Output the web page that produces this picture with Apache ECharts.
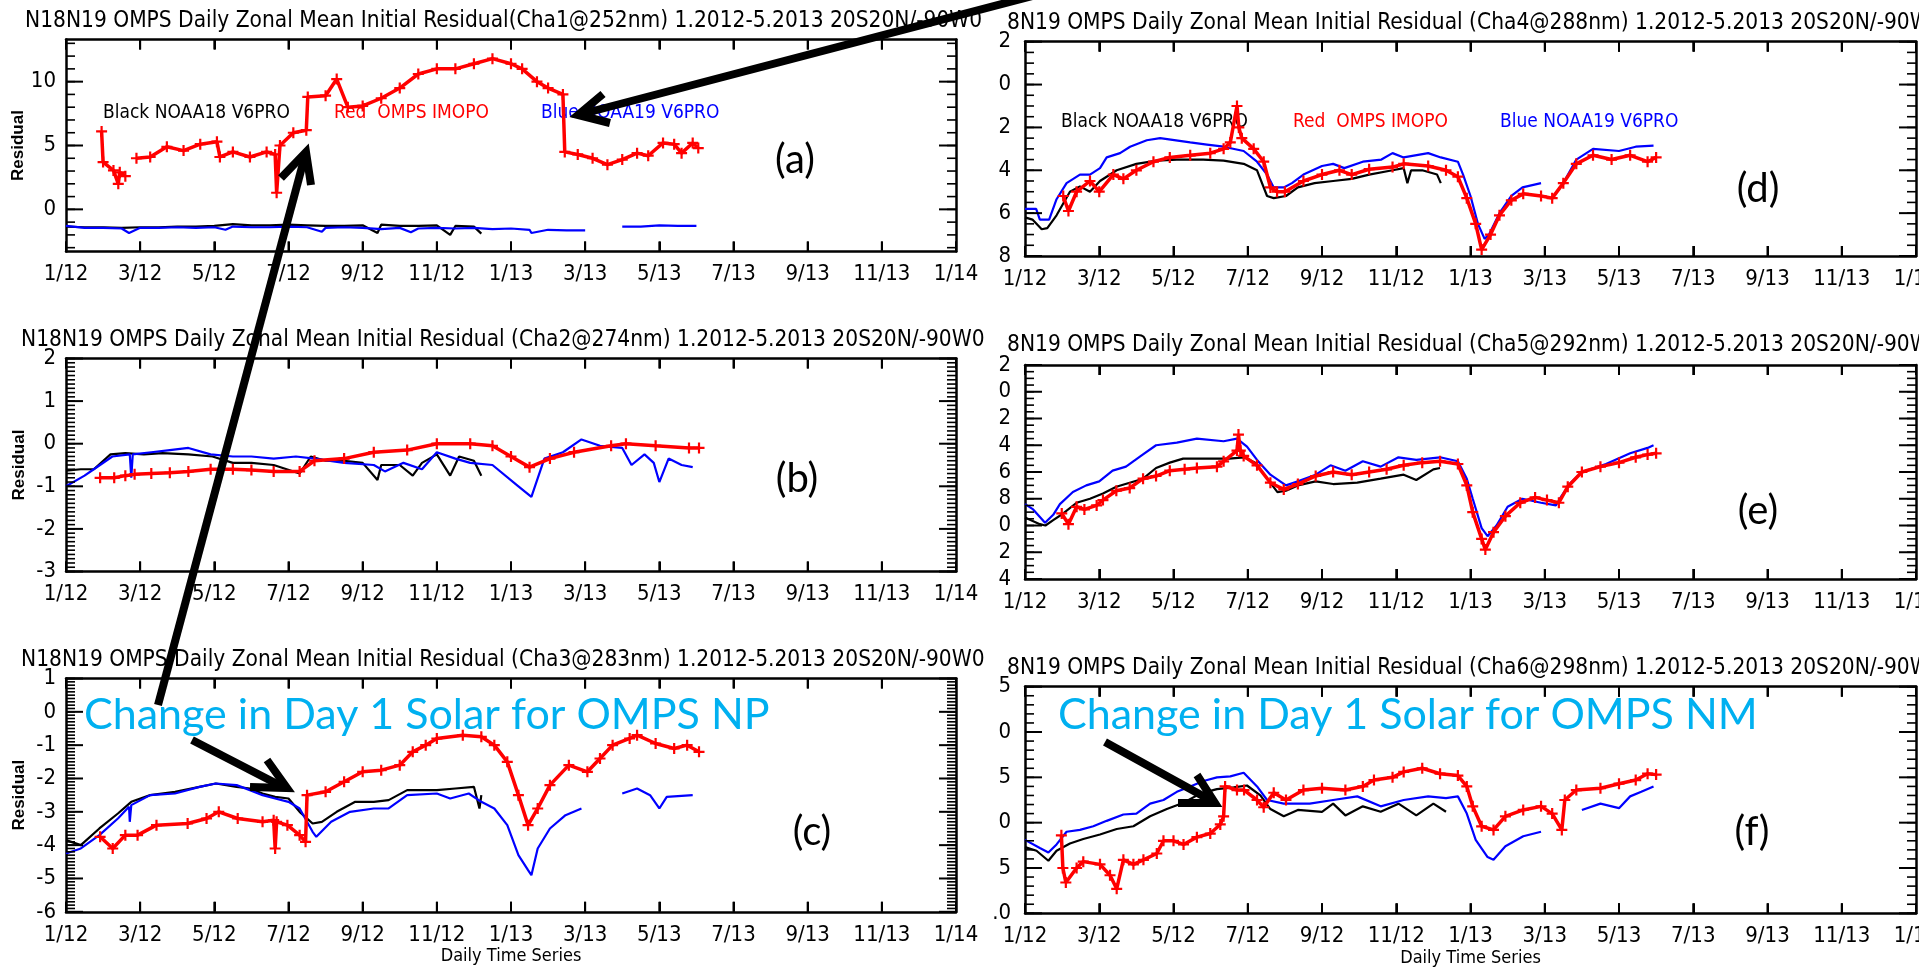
<!DOCTYPE html>
<html lang="en">
<head>
<meta charset="UTF-8">
<title>OMPS Daily Zonal Mean Initial Residual</title>
<script src="https://cdn.jsdelivr.net/npm/echarts@6/dist/echarts.min.js"></script>
</head>
<body style="margin:0;background:#fff;">
<div id="myChart" style="width:1919px;height:970px;"></div>
<script>
// x axis = months since 1/2012
var monthLabels = ['1/12','3/12','5/12','7/12','9/12','11/12','1/13','3/13','5/13','7/13','9/13','11/13','1/14'];
var monthTicks = [0,2,4,6,8,10,12,14,16,18,20,22,24];

// y ticks (what is visible on the cropped slide)
var aTicks = [0, 5, 10];            var aTickLabels = ['0','5','10'];
var bTicks = [-3,-2,-1,0,1,2];      var bTickLabels = ['-3','-2','-1','0','1','2'];
var cTicks = [-6,-5,-4,-3,-2,-1,0,1]; var cTickLabels = ['-6','-5','-4','-3','-2','-1','0','1'];
var dTicks = [-8,-6,-4,-2,0,2];     var dTickLabels = ['8','6','4','2','0','2'];
var eTicks = [-14,-12,-10,-8,-6,-4,-2,0,2]; var eTickLabels = ['4','2','0','8','6','4','2','0','2'];
var fTicks = [-1,-0.5,0,0.5,1,1.5]; var fTickLabels = ['.0','5','0','5','0','5'];

// Cha1 252nm
var aBlack = [[0,-1.35],[0.5,-1.4],[1,-1.4],[1.5,-1.45],[2,-1.4],[2.5,-1.4],[3,-1.35],[3.5,-1.35],[4,-1.3],[4.5,-1.15],[5,-1.25],[5.5,-1.25],[6,-1.2],[6.5,-1.25],[7,-1.3],[7.5,-1.3],[8,-1.25],[8.4,-1.85],[8.5,-1.2],[9,-1.3],[9.5,-1.3],[10,-1.25],[10.36,-2.0],[10.5,-1.3],[11,-1.35],[11.2,-1.9]];
var aBlue = [[0,-1.3],[0.5,-1.45],[1,-1.45],[1.5,-1.5],[1.7,-1.85],[2,-1.45],[2.5,-1.45],[3,-1.4],[3.5,-1.45],[4,-1.4],[4.3,-1.6],[4.5,-1.35],[5,-1.4],[5.5,-1.4],[6,-1.35],[6.5,-1.4],[6.9,-1.75],[7,-1.45],[7.5,-1.4],[8,-1.45],[8.5,-1.55],[9,-1.45],[9.3,-1.8],[9.5,-1.5],[10,-1.45],[10.5,-1.5],[11,-1.45],[11.5,-1.55],[12,-1.5],[12.5,-1.6],[12.55,-1.85],[13,-1.6],[13.5,-1.65],[14,-1.65],null,[15,-1.35],[15.5,-1.35],[16,-1.25],[16.5,-1.3],[17,-1.3]];
var aRed = [[0.96,6.1],[1.0,3.7],[1.28,3.05],[1.41,2.0],[1.45,2.9],[1.6,2.6],null,[1.9,4.0],[2.27,4.1],[2.72,4.9],[3.17,4.6],[3.62,5.1],[4.07,5.3],[4.15,4.1],[4.5,4.5],[4.96,4.1],[5.41,4.5],[5.64,4.3],[5.68,1.3],[5.77,5.0],[6.13,6.0],[6.48,6.2],[6.52,8.8],[7.0,8.9],[7.3,10.2],[7.6,8.0],[8.0,8.1],[8.5,8.7],[9.0,9.5],[9.5,10.6],[10.0,11.0],[10.5,11.0],[11.0,11.4],[11.5,11.8],[12.0,11.4],[12.3,11.0],[12.7,10.0],[13.0,9.5],[13.4,9.0],[13.45,4.5],[13.8,4.3],[14.2,4.0],[14.6,3.5],[15.0,3.9],[15.4,4.4],[15.7,4.2],[16.1,5.2],[16.4,5.1],[16.6,4.4],[16.9,5.2],[17.05,4.8]];

// Cha2 274nm
var bBlack = [[0,-0.63],[0.4,-0.6],[0.75,-0.6],[1.2,-0.25],[1.6,-0.22],[2.1,-0.25],[2.6,-0.22],[3.3,-0.25],[3.95,-0.3],[4.5,-0.45],[5.0,-0.45],[5.6,-0.5],[6.3,-0.7],[6.6,-0.3],[7.0,-0.4],[7.5,-0.4],[8.0,-0.45],[8.4,-0.85],[8.5,-0.5],[9.0,-0.5],[9.35,-0.75],[9.6,-0.45],[10.0,-0.25],[10.36,-0.75],[10.6,-0.3],[11.0,-0.4],[11.2,-0.75]];
var bBlue = [[0,-1.0],[0.5,-0.75],[0.75,-0.6],[1.25,-0.3],[1.72,-0.25],[1.76,-0.8],[1.8,-0.25],[2.3,-0.2],[2.8,-0.15],[3.3,-0.1],[3.9,-0.25],[4.5,-0.3],[5.0,-0.3],[5.6,-0.35],[6.2,-0.3],[6.7,-0.35],[7.5,-0.45],[8.3,-0.5],[8.6,-0.65],[9.1,-0.45],[9.6,-0.6],[10.0,-0.2],[10.5,-0.35],[10.9,-0.45],[11.5,-0.5],[12.2,-1.0],[12.55,-1.25],[12.9,-0.35],[13.4,-0.2],[13.9,0.1],[14.4,-0.05],[15.0,-0.1],[15.25,-0.5],[15.6,-0.25],[15.85,-0.45],[16.0,-0.9],[16.25,-0.35],[16.6,-0.5],[16.9,-0.55]];
var bRed = [[0.92,-0.8],[1.3,-0.8],[1.6,-0.75],[1.85,-0.72],[2.3,-0.7],[2.8,-0.68],[3.3,-0.65],[3.9,-0.6],[4.5,-0.6],[5.0,-0.62],[5.6,-0.65],[6.3,-0.65],[6.7,-0.4],[7.5,-0.35],[8.3,-0.2],[9.2,-0.15],[10.0,0.0],[10.9,0.0],[11.5,-0.05],[12.0,-0.3],[12.5,-0.55],[13.05,-0.35],[13.7,-0.2],[14.7,-0.05],[15.1,0.0],[15.9,-0.05],[16.8,-0.1],[17.07,-0.1]];

// Cha3 283nm
var cBlack = [[0,-3.85],[0.4,-4.0],[0.9,-3.5],[1.4,-3.05],[1.76,-2.7],[2.27,-2.5],[2.94,-2.4],[3.6,-2.25],[4.04,-2.15],[4.6,-2.25],[4.96,-2.3],[5.3,-2.45],[5.64,-2.55],[6.0,-2.6],[6.3,-3.0],[6.65,-3.35],[6.9,-3.3],[7.3,-3.0],[7.8,-2.7],[8.3,-2.7],[8.7,-2.65],[9.2,-2.35],[10.0,-2.35],[10.5,-2.3],[11.0,-2.25],[11.15,-2.9],[11.2,-2.5]];
var cBlue = [[0,-4.25],[0.4,-4.1],[0.9,-3.7],[1.4,-3.2],[1.7,-2.85],[1.72,-3.3],[1.76,-2.8],[2.27,-2.5],[2.94,-2.45],[3.6,-2.25],[4.04,-2.15],[4.6,-2.2],[4.96,-2.35],[5.3,-2.5],[5.64,-2.6],[6.0,-2.7],[6.3,-2.9],[6.65,-3.6],[6.75,-3.75],[7.15,-3.3],[7.66,-3.0],[8.3,-2.9],[8.7,-2.9],[9.2,-2.5],[10.0,-2.45],[10.36,-2.6],[10.86,-2.45],[11.2,-2.7],[11.55,-2.9],[11.9,-3.4],[12.2,-4.3],[12.46,-4.75],[12.55,-4.9],[12.72,-4.1],[13.05,-3.5],[13.47,-3.1],[13.9,-2.9],null,[15.0,-2.45],[15.4,-2.3],[15.75,-2.5],[16.0,-2.9],[16.2,-2.55],[16.9,-2.5]];
var cRed = [[0.92,-3.75],[1.26,-4.1],[1.6,-3.7],[1.93,-3.7],[2.44,-3.4],[3.28,-3.35],[3.79,-3.2],[4.12,-3.0],[4.63,-3.2],[5.3,-3.3],[5.6,-3.25],[5.64,-4.1],[5.68,-3.3],[5.97,-3.4],[6.3,-3.7],[6.46,-3.9],[6.5,-2.5],[7.0,-2.4],[7.5,-2.1],[8.0,-1.8],[8.5,-1.75],[9.0,-1.6],[9.35,-1.2],[9.7,-1.0],[10.0,-0.8],[10.7,-0.7],[11.2,-0.75],[11.55,-1.0],[11.9,-1.5],[12.2,-2.5],[12.46,-3.4],[12.72,-2.9],[13.05,-2.2],[13.56,-1.6],[14.06,-1.8],[14.4,-1.4],[14.74,-1.0],[15.2,-0.8],[15.4,-0.7],[15.9,-0.95],[16.4,-1.1],[16.75,-1.0],[17.07,-1.2]];

// Cha4 288nm
var dBlack = [[0,-6.2],[0.2,-6.3],[0.45,-6.75],[0.6,-6.7],[0.85,-6.1],[1.21,-5.0],[1.48,-4.75],[1.75,-5.0],[2.02,-4.5],[2.47,-4.0],[3.0,-3.7],[3.55,-3.55],[4.09,-3.5],[4.8,-3.5],[5.35,-3.55],[5.89,-3.7],[6.25,-4.0],[6.52,-5.2],[6.7,-5.3],[7.03,-5.2],[7.35,-4.8],[7.8,-4.6],[8.3,-4.5],[8.8,-4.4],[9.27,-4.2],[9.9,-4.0],[10.2,-3.9],[10.3,-4.6],[10.4,-4.0],[10.7,-4.0],[11.1,-4.2],[11.2,-4.6]];
var dBlue = [[0,-5.8],[0.3,-5.8],[0.4,-6.3],[0.65,-6.3],[0.85,-5.35],[1.12,-4.6],[1.48,-4.2],[1.75,-4.2],[2.02,-3.9],[2.2,-3.4],[2.56,-3.2],[2.83,-2.9],[3.28,-2.6],[3.64,-2.5],[4.45,-2.7],[4.9,-2.8],[5.35,-2.9],[5.89,-3.1],[6.25,-3.6],[6.52,-4.2],[6.7,-4.8],[6.97,-4.8],[7.19,-4.6],[7.5,-4.2],[8.0,-3.8],[8.3,-3.7],[8.6,-3.9],[9.1,-3.6],[9.6,-3.5],[9.9,-3.2],[10.2,-3.4],[10.86,-3.2],[11.2,-3.4],[11.66,-3.6],[11.8,-4.2],[12.0,-5.2],[12.2,-6.5],[12.38,-7.2],[12.5,-7.0],[12.78,-6.0],[13.1,-5.2],[13.4,-4.8],[13.9,-4.6],null,[14.5,-4.6],[14.85,-3.5],[15.3,-3.0],[16.0,-3.1],[16.45,-2.9],[16.93,-2.85]];
var dRed = [[1.03,-5.2],[1.17,-5.9],[1.39,-5.0],[1.75,-4.5],[2.0,-5.0],[2.38,-4.2],[2.65,-4.4],[3.0,-4.0],[3.46,-3.6],[3.9,-3.4],[4.45,-3.3],[4.99,-3.2],[5.35,-3.0],[5.53,-2.7],[5.71,-1.0],[5.76,-2.0],[5.84,-2.5],[6.16,-3.0],[6.43,-3.6],[6.61,-4.8],[6.79,-5.0],[7.0,-5.0],[7.5,-4.5],[8.0,-4.2],[8.47,-4.0],[8.8,-4.2],[9.27,-3.95],[9.9,-3.85],[10.2,-3.7],[10.86,-3.8],[11.34,-4.0],[11.66,-4.3],[11.9,-5.3],[12.14,-6.5],[12.3,-7.7],[12.54,-7.0],[12.78,-6.1],[13.1,-5.4],[13.42,-5.1],[13.9,-5.2],[14.2,-5.3],[14.5,-4.6],[14.85,-3.7],[15.3,-3.3],[15.8,-3.5],[16.3,-3.3],[16.77,-3.6],[17.0,-3.4]];

// Cha5 292nm
var eBlack = [[0,-9.4],[0.4,-9.9],[0.55,-10.0],[0.76,-9.6],[1.03,-9.1],[1.39,-8.3],[1.75,-8.0],[2.1,-7.6],[2.46,-7.1],[2.82,-6.8],[3.18,-6.5],[3.53,-5.7],[3.9,-5.3],[4.26,-5.0],[4.89,-5.0],[5.5,-5.0],[5.9,-4.9],[6.2,-5.3],[6.5,-6.4],[6.8,-7.5],[7.03,-7.4],[7.35,-7.0],[7.83,-6.7],[8.3,-6.9],[8.95,-6.8],[9.58,-6.5],[10.2,-6.2],[10.54,-6.6],[11.0,-5.8],[11.18,-5.7]];
var eBlue = [[0,-8.4],[0.22,-8.8],[0.54,-9.8],[0.76,-9.2],[0.94,-8.4],[1.29,-7.5],[1.65,-7.0],[2.0,-6.7],[2.36,-5.9],[2.72,-5.6],[3.17,-4.7],[3.53,-4.0],[4.09,-3.8],[4.63,-3.5],[5.35,-3.7],[5.71,-3.5],[5.98,-4.1],[6.25,-5.1],[6.61,-6.2],[7.03,-7.0],[7.35,-6.7],[7.83,-6.2],[8.23,-5.5],[8.63,-5.9],[9.1,-5.2],[9.58,-5.6],[10.06,-4.9],[10.54,-5.1],[11.18,-4.9],[11.66,-5.2],[11.9,-6.5],[12.06,-8.0],[12.3,-10.2],[12.46,-10.8],[12.7,-10.0],[13.0,-8.6],[13.4,-8.0],[13.9,-8.3],[14.3,-8.5],[14.45,-7.8],[14.7,-6.8],[15.0,-6.0],[15.65,-5.4],[16.3,-4.6],[16.77,-4.2],[16.93,-4.0]];
var eRed = [[0.99,-9.1],[1.17,-9.9],[1.39,-8.6],[1.6,-8.8],[1.93,-8.5],[2.1,-8.1],[2.46,-7.4],[2.82,-7.2],[3.18,-6.5],[3.53,-6.3],[3.9,-5.9],[4.3,-5.8],[4.63,-5.7],[5.17,-5.6],[5.35,-5.2],[5.71,-4.4],[5.75,-3.2],[5.8,-4.4],[5.89,-4.8],[6.25,-5.5],[6.61,-6.8],[6.97,-7.3],[7.35,-6.9],[7.83,-6.3],[8.3,-6.0],[8.8,-6.2],[9.27,-6.0],[9.74,-5.8],[10.2,-5.5],[10.7,-5.3],[11.18,-5.2],[11.66,-5.4],[11.9,-7.0],[12.06,-9.0],[12.3,-11.0],[12.4,-11.8],[12.62,-10.5],[12.94,-9.3],[13.34,-8.3],[13.74,-7.9],[14.06,-8.1],[14.38,-8.3],[14.62,-7.1],[15.0,-6.0],[15.5,-5.6],[16.0,-5.3],[16.45,-4.9],[16.77,-4.7],[17.0,-4.6]];

// Cha6 298nm
var fBlack = [[0,-0.27],[0.31,-0.31],[0.63,-0.42],[0.85,-0.31],[1.21,-0.23],[1.57,-0.18],[2.02,-0.13],[2.47,-0.07],[2.92,-0.04],[3.37,0.07],[3.82,0.15],[4.27,0.22],[4.72,0.32],[5.17,0.37],[5.62,0.39],[5.98,0.41],[6.34,0.3],[6.61,0.15],[6.97,0.07],[7.35,0.14],[8.0,0.12],[8.3,0.21],[8.63,0.08],[9.1,0.18],[9.58,0.12],[10.06,0.21],[10.54,0.08],[11.0,0.21],[11.34,0.12]];
var fBlue = [[0,-0.19],[0.4,-0.28],[0.63,-0.33],[0.85,-0.24],[1.12,-0.1],[1.48,-0.08],[1.84,-0.04],[2.2,0.02],[2.65,0.09],[3.0,0.1],[3.37,0.21],[3.73,0.25],[4.09,0.34],[4.45,0.4],[4.81,0.46],[5.17,0.5],[5.53,0.51],[5.89,0.55],[6.25,0.4],[6.52,0.25],[6.97,0.21],[7.67,0.21],[8.3,0.25],[8.95,0.29],[9.58,0.18],[10.2,0.25],[10.86,0.29],[11.34,0.27],[11.66,0.29],[11.9,0.1],[12.14,-0.19],[12.46,-0.38],[12.62,-0.41],[12.94,-0.26],[13.42,-0.15],[13.9,-0.1],null,[15.0,0.14],[15.5,0.21],[16.0,0.16],[16.3,0.29],[16.6,0.34],[16.93,0.4]];
var fRed = [[0.98,-0.14],[1.02,-0.5],[1.1,-0.66],[1.39,-0.5],[1.57,-0.43],[2.02,-0.46],[2.29,-0.58],[2.47,-0.73],[2.65,-0.41],[2.92,-0.46],[3.19,-0.41],[3.55,-0.34],[3.73,-0.2],[4.0,-0.2],[4.27,-0.24],[4.63,-0.16],[4.99,-0.12],[5.26,-0.02],[5.35,0.07],[5.39,0.4],[5.71,0.36],[5.9,0.36],[6.25,0.25],[6.43,0.17],[6.7,0.33],[7.03,0.25],[7.5,0.36],[8.0,0.38],[8.63,0.36],[9.1,0.4],[9.4,0.47],[9.9,0.5],[10.2,0.56],[10.7,0.6],[11.18,0.54],[11.66,0.52],[11.9,0.4],[12.06,0.18],[12.3,-0.04],[12.62,-0.08],[12.94,0.07],[13.42,0.14],[13.9,0.18],[14.2,0.1],[14.46,-0.08],[14.54,0.25],[14.85,0.36],[15.5,0.38],[16.0,0.43],[16.45,0.47],[16.77,0.54],[17.0,0.53]];

var titles = [
    'N18N19 OMPS Daily Zonal Mean Initial Residual(Cha1@252nm) 1.2012-5.2013 20S20N/-90W0',
    'N18N19 OMPS Daily Zonal Mean Initial Residual (Cha2@274nm) 1.2012-5.2013 20S20N/-90W0',
    'N18N19 OMPS Daily Zonal Mean Initial Residual (Cha3@283nm) 1.2012-5.2013 20S20N/-90W0',
    '8N19 OMPS Daily Zonal Mean Initial Residual (Cha4@288nm) 1.2012-5.2013 20S20N/-90W0',
    '8N19 OMPS Daily Zonal Mean Initial Residual (Cha5@292nm) 1.2012-5.2013 20S20N/-90W0',
    '8N19 OMPS Daily Zonal Mean Initial Residual (Cha6@298nm) 1.2012-5.2013 20S20N/-90W0'
];

var idl = "'DejaVu Sans Condensed','Liberation Sans Narrow',sans-serif";
var plus = 'path://M4,0H6V4H10V6H6V10H4V6H0V4H4Z';

// layout of the six IDL panels on the slide
var panels = [
    {left:66,   top:39.5,  width:890, height:212,   min:-3.3, max:13.3, ticks:aTicks, labels:aTickLabels, minor:1,   lines:[aBlack,aBlue,aRed], ytitle:true,  xname:'',                 tx:25,   ty:21},
    {left:66,   top:358.5, width:890, height:213,   min:-3,   max:2,    ticks:bTicks, labels:bTickLabels, minor:0.1, lines:[bBlack,bBlue,bRed], ytitle:true,  xname:'',                 tx:21,   ty:340},
    {left:66,   top:678.5, width:890, height:233.3, min:-6,   max:1,    ticks:cTicks, labels:cTickLabels, minor:0.1, lines:[cBlack,cBlue,cRed], ytitle:true,  xname:'Daily Time Series', tx:21,   ty:660},
    {left:1025, top:41.7,  width:891, height:214.3, min:-8,   max:2,    ticks:dTicks, labels:dTickLabels, minor:0.5, lines:[dBlack,dBlue,dRed], ytitle:false, xname:'',                 tx:1007, ty:23},
    {left:1025, top:365,   width:891, height:214,   min:-14,  max:2,    ticks:eTicks, labels:eTickLabels, minor:0.5, lines:[eBlack,eBlue,eRed], ytitle:false, xname:'',                 tx:1007, ty:345},
    {left:1025, top:686.7, width:891, height:226.6, min:-1,   max:1.5,  ticks:fTicks, labels:fTickLabels, minor:0.1, lines:[fBlack,fBlue,fRed], ytitle:false, xname:'Daily Time Series', tx:1007, ty:668}
];

var grid = [], xAxis = [], yAxis = [], series = [], graphic = [];
var lineColors = ['#000000', '#0000ff', '#ff0000'];

// IDL style inward ticks on all four sides, placed through the axis scales
function tickSeries(i, p, values, dir, len, width) {
    return {type: 'custom', xAxisIndex: 2 * i, yAxisIndex: 2 * i, silent: true, clip: false,
        zlevel: 1, z: 10,
        data: values.map(function (v) { return dir === 'x' ? [v, p.min] : [0, v]; }),
        renderItem: function (params, api) {
            var st = {stroke: '#000', lineWidth: width}, a, b;
            if (dir === 'x') {
                a = api.coord([api.value(0), p.min]); b = api.coord([api.value(0), p.max]);
                return {type: 'group', children: [
                    {type: 'line', shape: {x1: a[0], y1: a[1], x2: a[0], y2: a[1] - len}, style: st},
                    {type: 'line', shape: {x1: b[0], y1: b[1], x2: b[0], y2: b[1] + len}, style: st}]};
            }
            a = api.coord([0, api.value(1)]); b = api.coord([24, api.value(1)]);
            return {type: 'group', children: [
                {type: 'line', shape: {x1: a[0], y1: a[1], x2: a[0] + len, y2: a[1]}, style: st},
                {type: 'line', shape: {x1: b[0], y1: b[1], x2: b[0] - len, y2: b[1]}, style: st}]};
        }};
}

panels.forEach(function (p, i) {
    grid.push({left: p.left, top: p.top, width: p.width, height: p.height, outerBoundsMode: 'none'});

    var minors = [];
    for (var k = Math.ceil(p.min / p.minor - 1e-9); k * p.minor <= p.max + 1e-9; k++) {
        minors.push(Math.round(k * p.minor * 1000) / 1000);
    }

    ['bottom', 'top'].forEach(function (side) {
        xAxis.push({gridIndex: i, type: 'value', min: 0, max: 24, interval: 2, position: side,
            axisLine: {show: true, onZero: false, lineStyle: {color: '#000', width: 2.5}},
            axisTick: {show: true, inside: true, length: 10, lineStyle: {color: '#000', width: 2}},
            splitLine: {show: false},
            axisLabel: side === 'bottom' ? {margin: 12, color: '#000', fontSize: 22, fontFamily: idl,
                formatter: function (v) { return monthLabels[Math.round(v / 2)]; }} : {show: false},
            name: side === 'bottom' ? p.xname : '', nameLocation: 'middle', nameGap: 36,
            nameTextStyle: {color: '#000', fontSize: 18, fontFamily: idl}});
    });

    ['left', 'right'].forEach(function (side) {
        yAxis.push({gridIndex: i, type: 'value', min: p.min, max: p.max, position: side,
            axisLine: {show: true, onZero: false, lineStyle: {color: '#000', width: 2.5}},
            splitLine: {show: false}, axisTick: {show: false},
            axisLabel: {show: side === 'left', customValues: p.ticks, margin: i < 3 ? 10 : 14,
                color: '#000', fontSize: 22, fontFamily: idl,
                formatter: function (v) {
                    for (var j = 0; j < p.ticks.length; j++) {
                        if (Math.abs(p.ticks[j] - v) < 1e-6) return p.labels[j];
                    }
                    return '';
                }},
            name: (p.ytitle && side === 'left') ? 'Residual' : '',
            nameLocation: 'middle', nameRotate: 90, nameGap: 38,
            nameTextStyle: {color: '#000', fontSize: 17, fontWeight: 'bold', fontFamily: 'Liberation Sans, Arial, sans-serif'}});
    });

    series.push(tickSeries(i, p, monthTicks, 'x', 10, 2));
    series.push(tickSeries(i, p, p.ticks, 'y', 17, 2));
    series.push(tickSeries(i, p, minors, 'y', 9, 1.6));

    p.lines.forEach(function (d, s) {
        var red = s === 2;
        series.push({type: 'line', xAxisIndex: 2 * i, yAxisIndex: 2 * i, data: d,
            connectNulls: false, silent: true, z: 2 + s,
            showSymbol: red, showAllSymbol: true, symbol: plus, symbolSize: 11,
            itemStyle: {color: lineColors[s]},
            lineStyle: {color: lineColors[s], width: red ? 3.5 : 2.2}});
    });

    graphic.push({type: 'text', x: p.tx, y: p.ty, silent: true,
        style: {text: titles[i], fill: '#000', font: '22.5px ' + idl, align: 'left', verticalAlign: 'middle'}});
});

// in-plot legend texts of panels (a) and (d)
var legendTexts = [
    {x: 103, y: 113, text: 'Black NOAA18 V6PRO', fill: '#000'},
    {x: 334, y: 113, text: 'Red  OMPS IMOPO', fill: '#ff0000'},
    {x: 541, y: 113, text: 'Blue NOAA19 V6PRO', fill: '#0000ff'},
    {x: 1061, y: 122, text: 'Black NOAA18 V6PRO', fill: '#000'},
    {x: 1293, y: 122, text: 'Red  OMPS IMOPO', fill: '#ff0000'},
    {x: 1500, y: 122, text: 'Blue NOAA19 V6PRO', fill: '#0000ff'}
];
legendTexts.forEach(function (t) {
    graphic.push({type: 'text', x: t.x, y: t.y, silent: true,
        style: {text: t.text, fill: t.fill, font: '19px ' + idl, align: 'left', verticalAlign: 'middle'}});
});

// slide annotations
var slideFont = "Lato, 'Open Sans', sans-serif";
[['(a)', 795, 160], ['(b)', 797, 479], ['(c)', 812, 832], ['(d)', 1758, 189], ['(e)', 1758, 511], ['(f)', 1752, 832]].forEach(function (t) {
    graphic.push({type: 'text', x: t[1], y: t[2], silent: true,
        style: {text: t[0], fill: '#000', font: '40px ' + slideFont, align: 'center', verticalAlign: 'middle'}});
});
graphic.push({type: 'text', x: 84, y: 715, silent: true, z: 10,
    style: {text: 'Change in Day 1 Solar for OMPS NP', fill: '#00b0f0', font: '43px ' + slideFont, align: 'left', verticalAlign: 'middle'}});
graphic.push({type: 'text', x: 1058, y: 715, silent: true, z: 10,
    style: {text: 'Change in Day 1 Solar for OMPS NM', fill: '#00b0f0', font: '43px ' + slideFont, align: 'left', verticalAlign: 'middle'}});

// black arrows drawn on the slide
var arrows = [
    [[1040, -6], [578, 115]],
    [[158, 705], [306, 152]],
    [[192, 740], [283, 787]],
    [[1105, 742], [1212, 801]]
];
var heads = [
    [[603, 94], [578, 115], [610, 123]],
    [[281, 178], [306, 152], [311, 185]],
    [[267, 760], [287, 788], [250, 787]],
    [[1197, 775], [1215, 803], [1178, 803]]
];
arrows.forEach(function (a) {
    graphic.push({type: 'polyline', silent: true, z: 20, shape: {points: a},
        style: {stroke: '#000', lineWidth: 8, fill: null}});
});
heads.forEach(function (h) {
    graphic.push({type: 'polyline', silent: true, z: 20, shape: {points: h},
        style: {stroke: '#000', lineWidth: 8, fill: null, lineJoin: 'miter'}});
});

var myChart = echarts.init(document.getElementById('myChart'));
myChart.setOption({
    backgroundColor: '#ffffff',
    animation: false,
    grid: grid,
    xAxis: xAxis,
    yAxis: yAxis,
    series: series,
    graphic: graphic
});
</script>
</body>
</html>
